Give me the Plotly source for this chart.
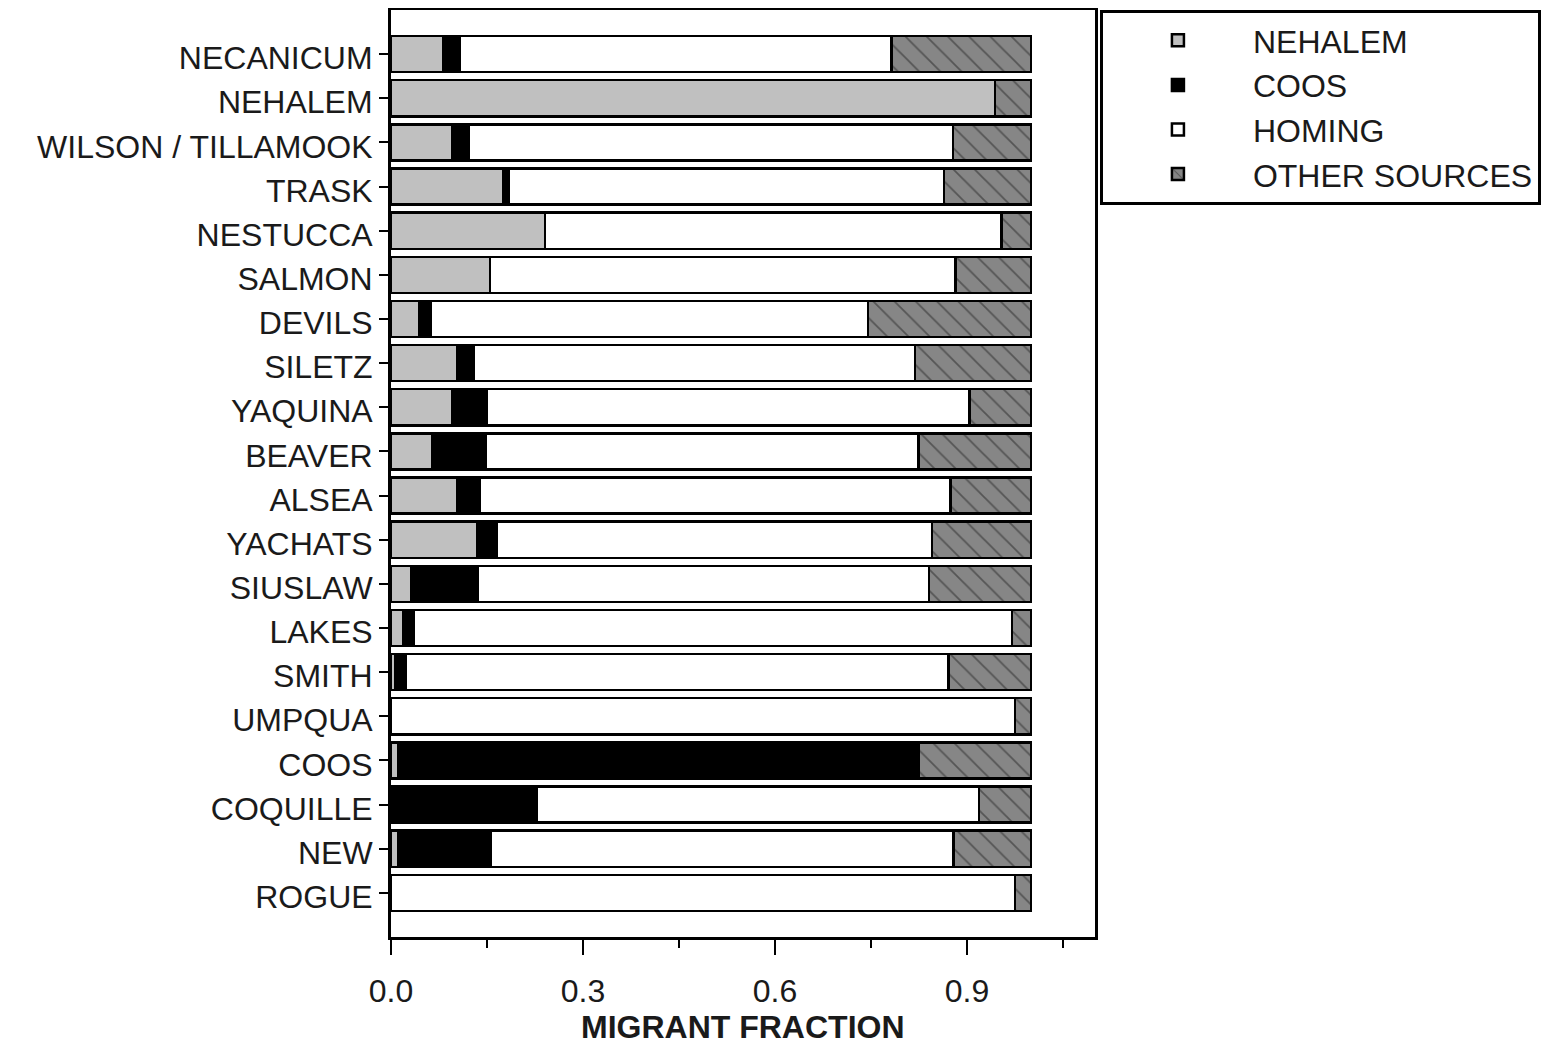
import plotly.graph_objects as go

rivers = ["NECANICUM", "NEHALEM", "WILSON / TILLAMOOK", "TRASK", "NESTUCCA", "SALMON",
          "DEVILS", "SILETZ", "YAQUINA", "BEAVER", "ALSEA", "YACHATS", "SIUSLAW",
          "LAKES", "SMITH", "UMPQUA", "COOS", "COQUILLE", "NEW", "ROGUE"]

nehalem = [0.082, 0.944, 0.095, 0.175, 0.241, 0.155, 0.044, 0.104, 0.096, 0.065,
           0.104, 0.135, 0.032, 0.019, 0.007, 0.000, 0.011, 0.000, 0.012, 0.000]
coos = [0.025, 0.000, 0.027, 0.009, 0.000, 0.000, 0.018, 0.025, 0.054, 0.083,
        0.035, 0.030, 0.104, 0.016, 0.016, 0.000, 0.813, 0.228, 0.144, 0.000]
homing = [0.675, 0.000, 0.756, 0.680, 0.713, 0.727, 0.683, 0.690, 0.754, 0.676,
          0.735, 0.680, 0.705, 0.935, 0.848, 0.975, 0.000, 0.691, 0.723, 0.975]
other = [0.218, 0.056, 0.122, 0.136, 0.046, 0.118, 0.255, 0.181, 0.096, 0.176,
         0.126, 0.155, 0.159, 0.030, 0.129, 0.025, 0.176, 0.081, 0.121, 0.025]

x_ticks = [0.0, 0.3, 0.6, 0.9]
x_ticktext = ["0.0", "0.3", "0.6", "0.9"]
x_minor = [0.15, 0.45, 0.75, 1.05]
x_title = "MIGRANT FRACTION"

FONT = "Liberation Sans, Arial, sans-serif"
TXT = "#1a1a1a"
pos = list(range(len(rivers)))

fig = go.Figure()
line = dict(color="black", width=2.5)
fig.add_trace(go.Bar(y=pos, x=nehalem, name="NEHALEM", orientation="h",
                     marker=dict(color="#c0c0c0", line=line)))
fig.add_trace(go.Bar(y=pos, x=coos, name="COOS", orientation="h",
                     marker=dict(color="black", line=line)))
fig.add_trace(go.Bar(y=pos, x=homing, name="HOMING", orientation="h",
                     marker=dict(color="white", line=line)))
fig.add_trace(go.Bar(y=pos, x=other, name="OTHER SOURCES", orientation="h",
                     marker=dict(color="#868686", line=line,
                                 pattern=dict(shape="\\", bgcolor="#868686",
                                              fgcolor="#555555", size=15,
                                              solidity=0.12, fillmode="replace"))))

# page body has an 8px default margin: compensate
fig.update_layout(
    barmode="stack",
    bargap=0.18,
    width=1548, height=1040,
    margin=dict(l=383, r=461, t=2, b=111, autoexpand=False),
    paper_bgcolor="white", plot_bgcolor="white",
    font=dict(family=FONT, size=32, color=TXT),
    showlegend=True,
    legend=dict(x=1.007, y=1.0, xanchor="left", yanchor="top",
                bgcolor="white", bordercolor="black", borderwidth=3,
                font=dict(family=FONT, size=32, color=TXT),
                itemwidth=140, traceorder="normal", tracegroupgap=0),
    annotations=[dict(text="<b>" + x_title + "</b>", xref="paper", yref="paper",
                      x=0.5, y=-0.118, xanchor="center", yanchor="bottom",
                      borderpad=0, showarrow=False,
                      font=dict(family=FONT, size=32, color=TXT))],
)

fig.update_xaxes(
    range=[0, 1.1], autorange=False,
    tickmode="array", tickvals=x_ticks, ticktext=x_ticktext,
    ticks="outside", ticklen=15, tickwidth=1.5, tickcolor="black",
    ticklabelstandoff=9,
    minor=dict(tickmode="array", tickvals=x_minor, ticks="outside", ticklen=8,
               tickwidth=1.5, tickcolor="black", showgrid=False),
    showline=True, linecolor="black", linewidth=3, mirror=True,
    showgrid=False, zeroline=False,
    tickfont=dict(family=FONT, size=32, color=TXT),
    automargin=False,
)
fig.update_yaxes(
    range=[20, -1], autorange=False,
    tickmode="array", tickvals=pos, ticktext=rivers,
    ticks="outside", ticklen=9, tickwidth=1.5, tickcolor="black",
    ticklabelshift=-4,
    showline=True, linecolor="black", linewidth=3, mirror=True,
    showgrid=False, zeroline=False,
    tickfont=dict(family=FONT, size=32, color=TXT),
    automargin=False,
)

fig.write_html("out.html")
